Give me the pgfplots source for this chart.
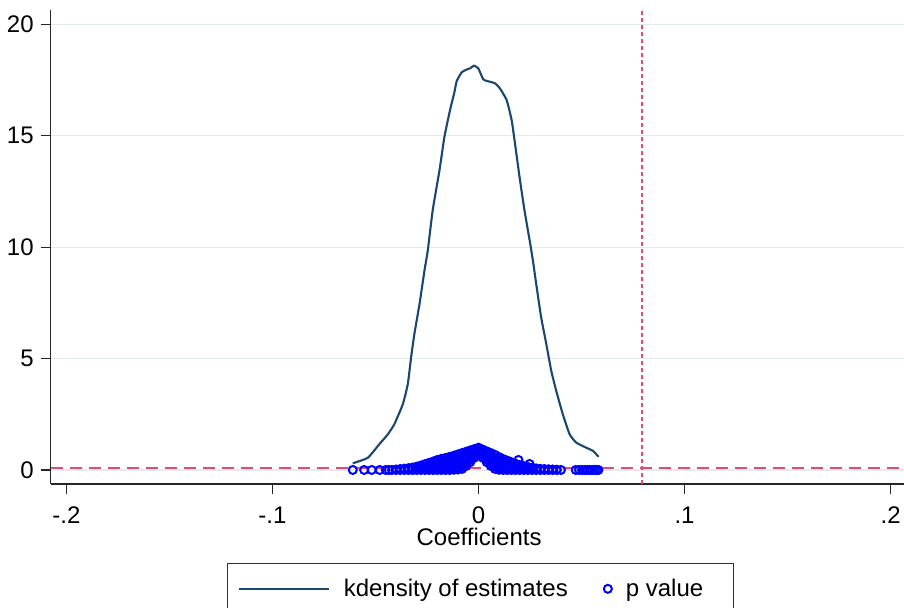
\documentclass[border=0pt]{standalone}
\usepackage{pgfplots}
\pgfplotsset{compat=1.18}
\usepackage{fontspec}
\setmainfont{Liberation Sans}
\definecolor{navy}{RGB}{26,71,111}
\definecolor{lineref}{rgb}{0.88,0.30,0.45}
\definecolor{gridc}{RGB}{226,236,239}
\pgfplotsset{
  kdlegend/.style={legend image code/.code={\draw[##1] (0pt,0pt) -- (45pt,0pt);}},
  plegend/.style={legend image code/.code={\draw[##1] plot coordinates {(2pt,0pt)};}},
}

\pgfplotstableread{
x y
-0.0610 0.30
-0.0537 0.55
-0.0481 1.16
-0.0440 1.60
-0.0408 2.06
-0.0367 2.96
-0.0343 3.86
-0.0327 5.06
-0.0311 6.11
-0.0286 7.46
-0.0262 8.96
-0.0246 9.86
-0.0222 11.67
-0.0189 13.47
-0.0165 14.97
-0.0138 16.16
-0.0117 16.95
-0.0106 17.45
-0.0082 17.85
-0.0057 17.98
-0.0041 18.03
-0.0022 18.15
-0.0001 18.03
0.0023 17.54
0.0043 17.46
0.0080 17.36
0.0104 17.13
0.0137 16.60
0.0161 15.70
0.0178 14.60
0.0199 13.17
0.0223 11.67
0.0248 10.32
0.0264 9.41
0.0280 8.36
0.0304 6.86
0.0329 5.66
0.0353 4.46
0.0377 3.56
0.0409 2.51
0.0442 1.61
0.0474 1.23
0.0523 1.00
0.0555 0.86
0.0583 0.59
}\kdens

\pgfplotstableread{
x p
-0.0610 0
-0.0555 0
-0.0518 0
-0.0479 0
-0.0450 0
-0.0435 0
-0.0420 0
-0.040 0
-0.040 0.02
-0.038 0
-0.038 0.04
-0.036 0
-0.036 0.06
-0.034 0
-0.034 0.08
-0.032 0
-0.032 0.11
-0.030 0
-0.030 0.08
-0.030 0.15
-0.028 0
-0.028 0.10
-0.028 0.20
-0.026 0
-0.026 0.13
-0.026 0.26
-0.024 0
-0.024 0.11
-0.024 0.22
-0.024 0.32
-0.022 0
-0.022 0.10
-0.022 0.20
-0.022 0.29
-0.022 0.38
-0.020 0
-0.020 0.10
-0.020 0.20
-0.020 0.30
-0.020 0.38
-0.020 0.45
-0.018 0
-0.018 0.10
-0.018 0.20
-0.018 0.30
-0.018 0.40
-0.018 0.50
-0.016 0
-0.016 0.10
-0.016 0.20
-0.016 0.30
-0.016 0.40
-0.016 0.47
-0.016 0.54
-0.014 0
-0.014 0.10
-0.014 0.20
-0.014 0.30
-0.014 0.40
-0.014 0.50
-0.014 0.59
-0.012 0.01
-0.012 0.10
-0.012 0.20
-0.012 0.30
-0.012 0.40
-0.012 0.50
-0.012 0.57
-0.012 0.64
-0.010 0.02
-0.010 0.12
-0.010 0.22
-0.010 0.32
-0.010 0.42
-0.010 0.52
-0.010 0.61
-0.010 0.70
-0.008 0.05
-0.008 0.15
-0.008 0.25
-0.008 0.35
-0.008 0.45
-0.008 0.55
-0.008 0.65
-0.008 0.76
-0.006 0.18
-0.006 0.28
-0.006 0.38
-0.006 0.48
-0.006 0.58
-0.006 0.68
-0.006 0.76
-0.006 0.82
-0.004 0.35
-0.004 0.45
-0.004 0.55
-0.004 0.65
-0.004 0.75
-0.004 0.82
-0.004 0.88
-0.002 0.55
-0.002 0.65
-0.002 0.75
-0.002 0.85
-0.002 0.94
0.000 0.75
0.000 0.85
0.000 0.93
0.000 1.00
0.002 0.55
0.002 0.65
0.002 0.75
0.002 0.84
0.002 0.92
0.004 0.35
0.004 0.45
0.004 0.55
0.004 0.65
0.004 0.75
0.004 0.84
0.006 0.18
0.006 0.28
0.006 0.38
0.006 0.48
0.006 0.58
0.006 0.68
0.006 0.76
0.008 0.05
0.008 0.15
0.008 0.25
0.008 0.35
0.008 0.45
0.008 0.55
0.008 0.68
0.010 0.01
0.010 0.10
0.010 0.20
0.010 0.30
0.010 0.40
0.010 0.50
0.010 0.58
0.012 0
0.012 0.10
0.012 0.20
0.012 0.30
0.012 0.40
0.012 0.49
0.014 0
0.014 0.10
0.014 0.20
0.014 0.30
0.014 0.42
0.016 0
0.016 0.10
0.016 0.20
0.016 0.28
0.016 0.35
0.018 0
0.018 0.10
0.018 0.19
0.018 0.28
0.0194 0.45
0.020 0
0.020 0.08
0.020 0.15
0.020 0.22
0.022 0
0.022 0.09
0.022 0.17
0.024 0
0.024 0.07
0.024 0.13
0.0248 0.27
0.026 0
0.026 0.05
0.026 0.10
0.028 0
0.028 0.07
0.030 0
0.030 0.05
0.032 0
0.032 0.04
0.034 0
0.034 0.03
0.036 0
0.036 0.02
0.038 0
0.038 0.01
0.040 0
0.0472 0
0.0488 0
0.0502 0
0.0515 0
0.0528 0
0.0540 0
0.0552 0
0.0563 0
0.0573 0
0.0582 0
}\pvals

\begin{document}
\begin{tikzpicture}
\path[use as bounding box] (0,0) rectangle (452pt,303.5pt);
\begin{axis}[
  at={(25.35pt,61.5pt)}, anchor=south west,
  scale only axis, width=426.65pt, height=237pt,
  xmin=-0.2076, xmax=0.2065, ymin=-0.63, ymax=20.65,
  axis lines=left,
  axis line style={-, draw=black!85, line width=0.6pt},
  xtick={-0.2,-0.1,0,0.1,0.2}, xticklabels={-.2,-.1,0,.1,.2},
  ytick={0,5,10,15,20}, yticklabels={0,5,10,15,20},
  tick align=outside, major tick length=5pt,
  tick style={black!85, line width=0.6pt},
  ymajorgrids, grid style={gridc, line width=0.6pt},
  tick label style={font=\fontsize{12}{14}\selectfont},
  xticklabel style={yshift=-3pt},
  xlabel={Coefficients},
  xlabel style={font=\fontsize{12}{14}\selectfont,
    at={(axis description cs:0.502,-0.1118)}, anchor=center},
  legend columns=2,
  legend style={at={(0.504,-0.1667)}, anchor=north,
    draw=black!80, line width=0.6pt, fill=white,
    font=\fontsize{12}{14}\selectfont,
    inner xsep=5pt, inner ysep=5.5pt,
    /tikz/every odd column/.append style={column sep=5pt},
    /tikz/every even column/.append style={column sep=16pt}},
]
\addplot[draw=lineref, line width=0.8pt, dash pattern=on 6pt off 3.5pt, forget plot]
  coordinates {(-0.2076,0.1) (0.2065,0.1)};
\addplot[draw=lineref, line width=0.9pt, dash pattern=on 2pt off 1.5pt, forget plot]
  coordinates {(0.0792,-0.63) (0.0792,20.65)};
\addplot[color=navy, line width=1.05pt, smooth, tension=0.3, kdlegend]
  table[x=x, y=y] {\kdens};
\addlegendentry{kdensity of estimates}
\addplot[only marks, mark=o, color=blue, mark size=2pt, line width=1pt, plegend]
  table[x=x, y=p] {\pvals};
\addlegendentry{\makebox[47pt][l]{p value}}
\end{axis}
\end{tikzpicture}
\end{document}
